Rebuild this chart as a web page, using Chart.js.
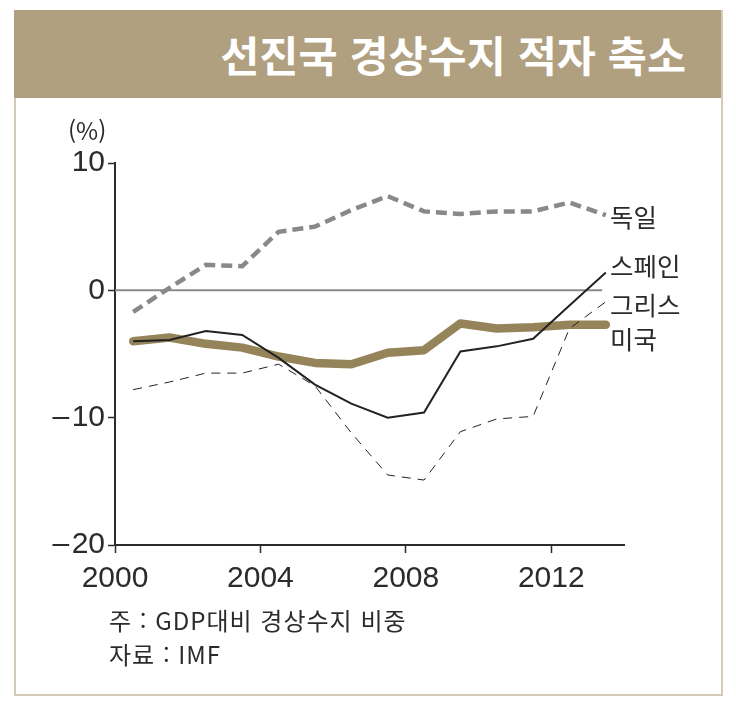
<!DOCTYPE html>
<html lang="ko">
<head>
<meta charset="utf-8">
<title>선진국 경상수지 적자 축소</title>
<script src="https://cdn.jsdelivr.net/npm/chart.js@4"></script>
<style>
  html, body { margin: 0; padding: 0; background: #fff; }
  #wrap { position: relative; width: 736px; height: 704px; overflow: hidden; font-family: "Noto Sans CJK KR", "Liberation Sans", sans-serif; color: #2b2b2b; }
  #frame { position: absolute; left: 14px; top: 10px; width: 705px; height: 682px; border: 2px solid #d3cbb5; }
  #band { position: absolute; left: 14px; top: 10px; width: 707px; height: 88px; background: #b0a07f; }
  #title { position: absolute; right: 50px; top: 27px; font-size: 42.5px; line-height: 54px; font-weight: 700; color: #fff; white-space: nowrap; }
  canvas { position: absolute; left: 0; top: 0; }
  .txt { position: absolute; white-space: nowrap; line-height: 1; }
  .label { font-size: 25.5px; left: 610px; }
  .note { font-size: 24px; left: 109px; letter-spacing: 1px; }
</style>
</head>
<body>
<div id="wrap">
  <div id="frame"></div>
  <div id="band"></div>
  <div id="title">선진국 경상수지 적자 축소</div>
  <canvas id="chart" width="736" height="704"></canvas>
  <div class="txt" style="left:68px;top:118px;font-size:24px;">(%)</div>
  <div class="txt label" style="top:203px;">독일</div>
  <div class="txt label" style="top:252px;">스페인</div>
  <div class="txt label" style="top:291px;">그리스</div>
  <div class="txt label" style="top:325px;">미국</div>
  <div class="txt note" style="top:608px;">주 : GDP대비 경상수지 비중</div>
  <div class="txt note" style="top:642px;">자료 : IMF</div>
</div>
<script>
// values, one point per year placed mid-year
const years = [2000.5, 2001.5, 2002.5, 2003.5, 2004.5, 2005.5, 2006.5, 2007.5, 2008.5, 2009.5, 2010.5, 2011.5, 2012.5, 2013.5];
const germany = [-1.7, 0.2, 2.0, 1.9, 4.6, 5.0, 6.3, 7.4, 6.2, 6.0, 6.2, 6.2, 6.9, 5.9];
const spain = [-4.0, -3.9, -3.2, -3.5, -5.3, -7.4, -8.9, -10.0, -9.6, -4.8, -4.4, -3.8, -1.2, 1.4];
const greece = [-7.8, -7.2, -6.5, -6.5, -5.8, -7.5, -11.2, -14.5, -14.9, -11.1, -10.1, -9.9, -3.0, -0.9];
const usa = [-4.0, -3.7, -4.2, -4.5, -5.2, -5.7, -5.8, -4.9, -4.7, -2.6, -3.0, -2.9, -2.7, -2.7];
const xTicks = [2000, 2004, 2008, 2012];
const yTicks = [10, 0, -10, -20];

function points(values) {
  return values.map((v, i) => ({ x: years[i], y: v }));
}

// thin grey line at zero, under the series
const zeroLine = {
  id: "zeroLine",
  beforeDatasetsDraw(chart) {
    const { ctx, scales } = chart;
    const y = scales.y.getPixelForValue(0);
    ctx.save();
    ctx.strokeStyle = "#8a8a8a";
    ctx.lineWidth = 2;
    ctx.beginPath();
    ctx.moveTo(scales.x.getPixelForValue(2000), y);
    ctx.lineTo(scales.x.getPixelForValue(2013.4), y);
    ctx.stroke();
    ctx.restore();
  }
};

const tickFont = { family: "'Liberation Sans', sans-serif", size: 30 };

new Chart(document.getElementById("chart").getContext("2d"), {
  type: "line",
  data: {
    datasets: [
      { label: "독일", data: points(germany), borderColor: "#88888d", borderWidth: 4.5, borderDash: [11, 6], order: 3 },
      { label: "미국", data: points(usa), borderColor: "#958459", borderWidth: 8.5, borderCapStyle: "round", borderJoinStyle: "round", order: 4 },
      { label: "그리스", data: points(greece), borderColor: "#222", borderWidth: 1, borderDash: [9, 7], order: 2 },
      { label: "스페인", data: points(spain), borderColor: "#222", borderWidth: 2, order: 1 }
    ]
  },
  options: {
    responsive: false,
    animation: false,
    parsing: false,
    devicePixelRatio: 1,
    elements: { point: { radius: 0 }, line: { tension: 0 } },
    layout: { padding: { top: 163, right: 112, bottom: 0, left: 0 } },
    plugins: { legend: { display: false }, tooltip: { enabled: false } },
    scales: {
      x: {
        type: "linear",
        min: 2000,
        max: 2014,
        afterBuildTicks: scale => { scale.ticks = xTicks.map(v => ({ value: v })); },
        afterFit: scale => { scale.height = 159; },
        border: { color: "#2b2b2b", width: 2 },
        grid: { drawOnChartArea: false, color: "#2b2b2b", tickLength: 8, tickWidth: 1.5 },
        ticks: { color: "#2b2b2b", font: tickFont, padding: 8, maxRotation: 0, autoSkip: false, callback: v => String(v) }
      },
      y: {
        type: "linear",
        min: -20,
        max: 10,
        afterBuildTicks: scale => { scale.ticks = yTicks.map(v => ({ value: v })); },
        afterFit: scale => { scale.width = 115; },
        border: { color: "#2b2b2b", width: 2 },
        grid: { drawOnChartArea: false, color: "#2b2b2b", tickLength: 7, tickWidth: 1.5 },
        ticks: { color: "#2b2b2b", font: tickFont, padding: 3, autoSkip: false, callback: v => (v < 0 ? "\u2013\u200a" + Math.abs(v) : String(v)) }
      }
    }
  },
  plugins: [zeroLine]
});
</script>
</body>
</html>
